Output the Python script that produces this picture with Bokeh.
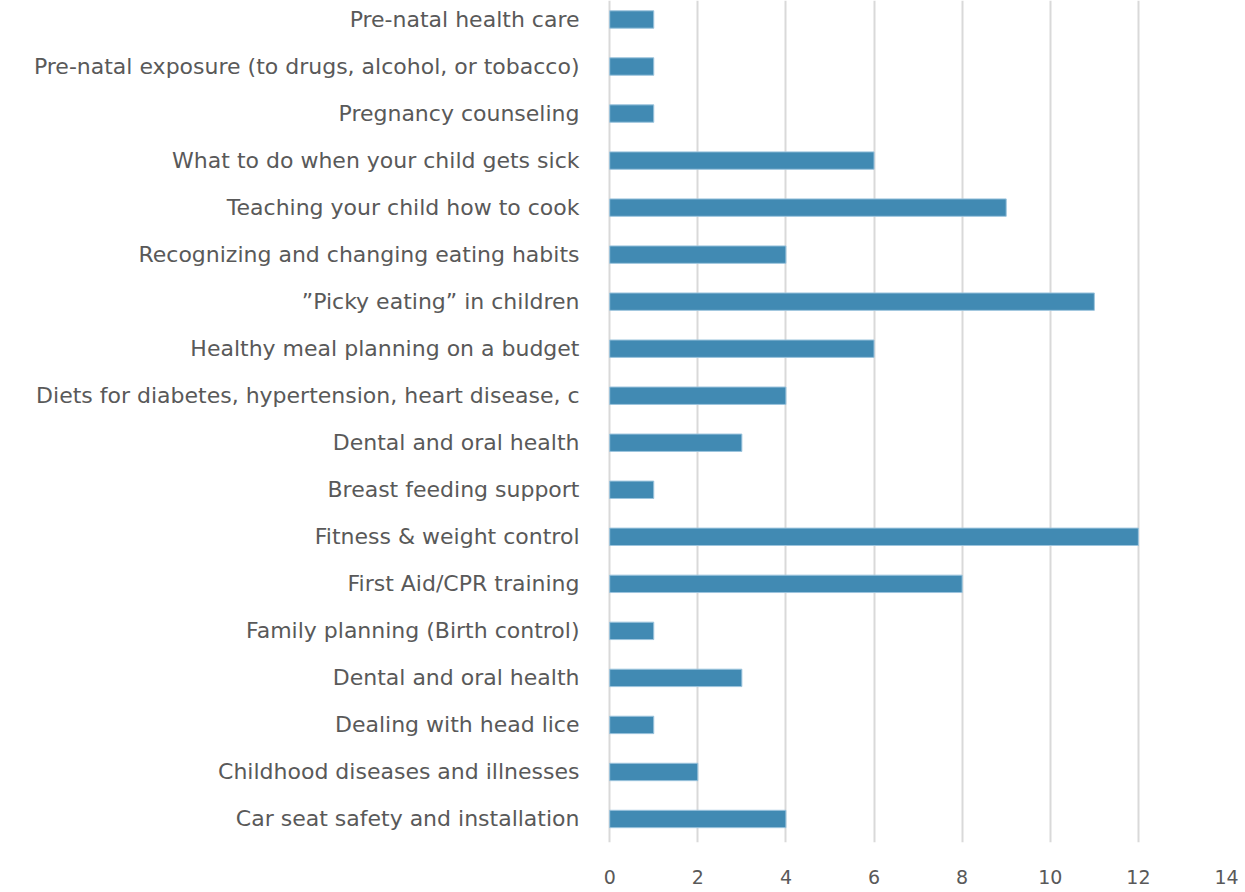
from bokeh.plotting import figure
from bokeh.models import Range1d, FixedTicker
from bokeh.embed import file_html
from bokeh.resources import INLINE

categories = [
    "Pre-natal health care",
    "Pre-natal exposure (to drugs, alcohol, or tobacco)",
    "Pregnancy counseling",
    "What to do when your child gets sick",
    "Teaching your child how to cook",
    "Recognizing and changing eating habits",
    "\u201dPicky eating\u201d in children",
    "Healthy meal planning on a budget",
    "Diets for diabetes, hypertension, heart disease, c",
    "Dental and oral health",
    "Breast feeding support",
    "Fitness & weight control",
    "First Aid/CPR training",
    "Family planning (Birth control)",
    "Dental and oral health",
    "Dealing with head lice",
    "Childhood diseases and illnesses",
    "Car seat safety and installation",
]
values = [1, 1, 1, 6, 9, 4, 11, 6, 4, 3, 1, 12, 8, 1, 3, 1, 2, 4]
x_ticks = [0, 2, 4, 6, 8, 10, 12, 14]

n = len(categories)
# position 0 at bottom (last category), top category at n-1
ypos = [n - 1 - i for i in range(n)]

FONT = "DejaVu Sans"

p = figure(
    width=1245, height=892,
    output_backend="svg", toolbar_location=None,
    x_range=Range1d(-0.05, 14),
    y_range=Range1d(-0.5, n - 1 + 0.404),
    min_border_left=607, min_border_right=19,
    min_border_top=0, min_border_bottom=50,
)

p.hbar(y=ypos, right=values, left=0, height=0.37,
       fill_color="#418AB3", line_color="#9cc4dd", line_width=1)

p.xaxis.ticker = FixedTicker(ticks=x_ticks)
p.xaxis.axis_line_color = None
p.xaxis.major_tick_line_color = None
p.xaxis.minor_tick_line_color = None
p.xaxis.major_label_text_font = FONT
p.xaxis.major_label_text_font_size = "19px"
p.xaxis.major_label_text_color = "#595959"
p.xaxis.major_label_standoff = 21

p.yaxis.ticker = FixedTicker(ticks=ypos)
p.yaxis.major_label_overrides = {yp: c for yp, c in zip(ypos, categories)}
p.yaxis.axis_line_color = None
p.yaxis.major_tick_line_color = None
p.yaxis.minor_tick_line_color = None
p.yaxis.major_label_text_font = FONT
p.yaxis.major_label_text_font_size = "22px"
p.yaxis.major_label_text_color = "#595959"
p.yaxis.major_label_standoff = 22

p.xgrid.grid_line_color = "#d9d9d9"
p.xgrid.grid_line_width = 2
p.ygrid.grid_line_color = None
p.outline_line_color = None
p.background_fill_color = "white"
p.border_fill_color = "white"

open("out.html", "w").write(file_html(p, INLINE))
